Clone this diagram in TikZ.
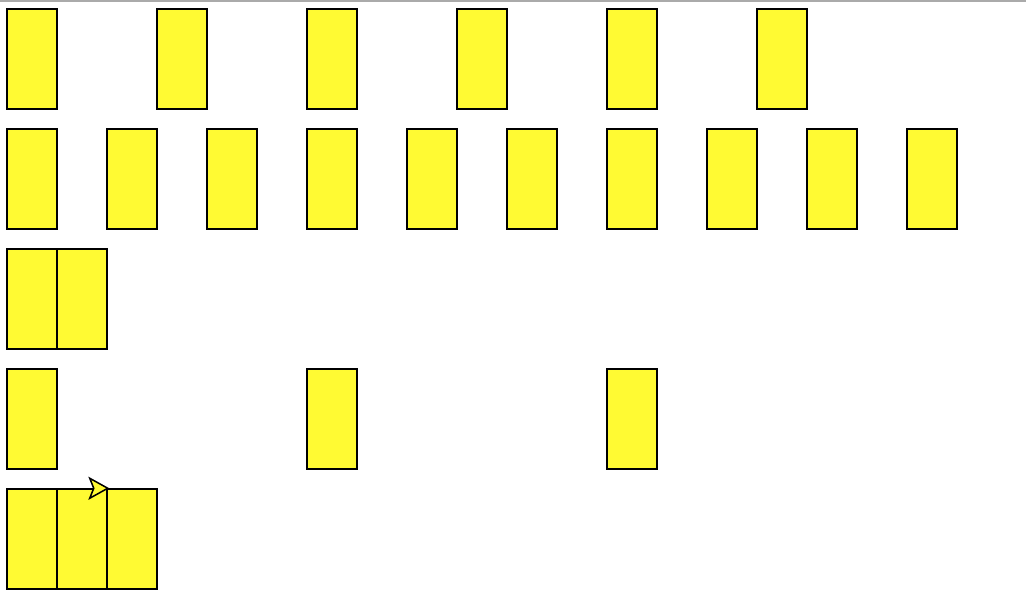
\documentclass[tikz,border=0pt]{standalone}
\usepackage{xcolor}
\usetikzlibrary{calc}
\definecolor{boxyellow}{RGB}{255,250,51}
\definecolor{rulegrey}{RGB}{170,170,170}

\begin{document}
\begin{tikzpicture}[x=1pt, y=-1pt,
  bar/.style={draw, fill=boxyellow, line width=1.5pt, inner sep=0pt,
    minimum width=50pt, minimum height=100pt}]
  \useasboundingbox (0,0) rectangle (1026,608);
  % top rule
  \draw[rulegrey, line width=2pt] (0,1) -- (1026,1);
  % row 1: every 150
  \foreach \k in {0,...,5}
    \node[bar] (ra\k) at (32+150*\k, 59) {};
  % row 2: every 100
  \foreach \k in {0,...,9}
    \node[bar] (rb\k) at (32+100*\k, 179) {};
  % row 3: pair
  \foreach \k in {0,1}
    \node[bar] (rc\k) at (32+50*\k, 299) {};
  % row 4: every 300
  \foreach \k in {0,...,2}
    \node[bar] (rd\k) at (32+300*\k, 419) {};
  % row 5: triple
  \foreach \k in {0,...,2}
    \node[bar] (re\k) at (32+50*\k, 539) {};
  % pointer on the triple
  \coordinate (tip) at (re1.north east);
  \draw[fill=boxyellow, line width=1.5pt, line join=miter]
    (tip) -- ($(tip)+(-18,-10)$) -- ($(tip)+(-14,0)$)
    -- ($(tip)+(-18,10)$) -- cycle;
\end{tikzpicture}
\end{document}
